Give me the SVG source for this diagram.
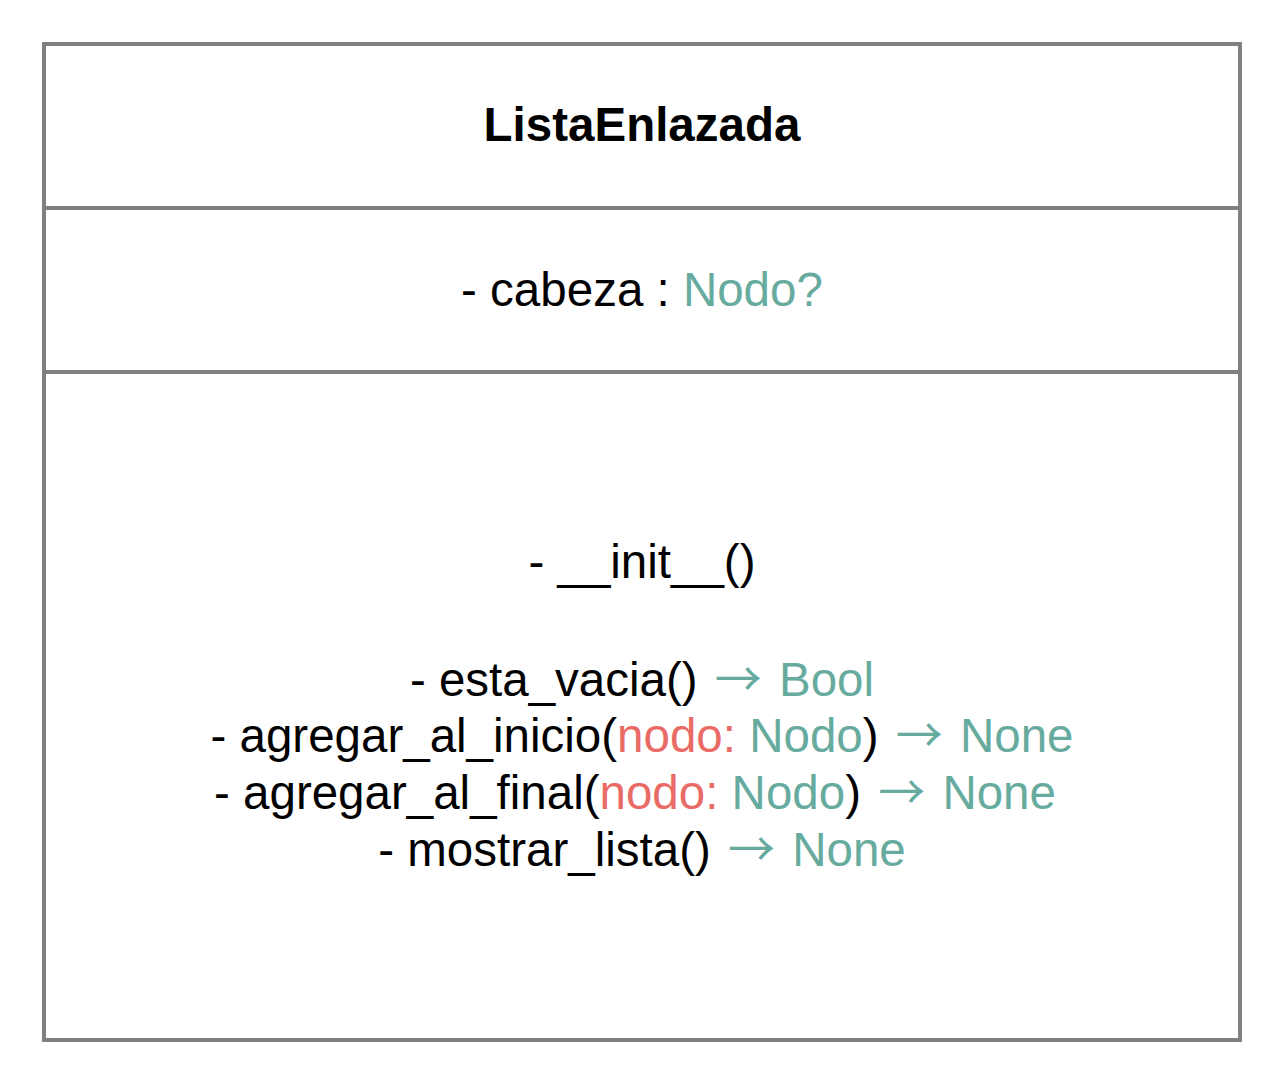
<svg xmlns="http://www.w3.org/2000/svg" width="1280" height="1080" viewBox="0 0 1280 1080">
<style>
.box{fill:#ffffff;stroke:#808080;stroke-width:4}
.div{stroke:#808080;stroke-width:4;fill:none}
text{font-family:"Liberation Sans",Arial,sans-serif;font-size:47.5px;fill:#000000;text-anchor:middle}
.title{font-weight:bold}
.t{fill:#67AB9F}
.r{fill:#EA6B66}
.a{font-family:"Noto Sans CJK SC",sans-serif;font-size:47px}
</style>
<rect width="1280" height="1080" fill="#ffffff"/>
<g id="ListaEnlazada">
<rect class="box" x="44" y="44" width="1196" height="996"/>
<line class="div" x1="44" y1="208" x2="1240" y2="208"/>
<line class="div" x1="44" y1="372" x2="1240" y2="372"/>
<text class="title" x="642" y="141">ListaEnlazada</text>
<text x="642" y="306">- cabeza : <tspan class="t">Nodo?</tspan></text>
<text x="642" y="578">- __init__()</text>
<text x="642" y="695.5">- esta_vacia() <tspan class="t a" dx="4">→</tspan><tspan class="t" dx="4"> Bool</tspan></text>
<text x="642" y="752">- agregar_al_inicio(<tspan class="r">nodo:</tspan> <tspan class="t">Nodo</tspan>) <tspan class="t a" dx="4">→</tspan><tspan class="t" dx="4"> None</tspan></text>
<text x="635" y="808.5">- agregar_al_final(<tspan class="r">nodo:</tspan> <tspan class="t">Nodo</tspan>) <tspan class="t a" dx="4">→</tspan><tspan class="t" dx="4"> None</tspan></text>
<text x="642" y="866">- mostrar_lista() <tspan class="t a" dx="4">→</tspan><tspan class="t" dx="4"> None</tspan></text>
</g>
<g id="connectors"></g>
</svg>
